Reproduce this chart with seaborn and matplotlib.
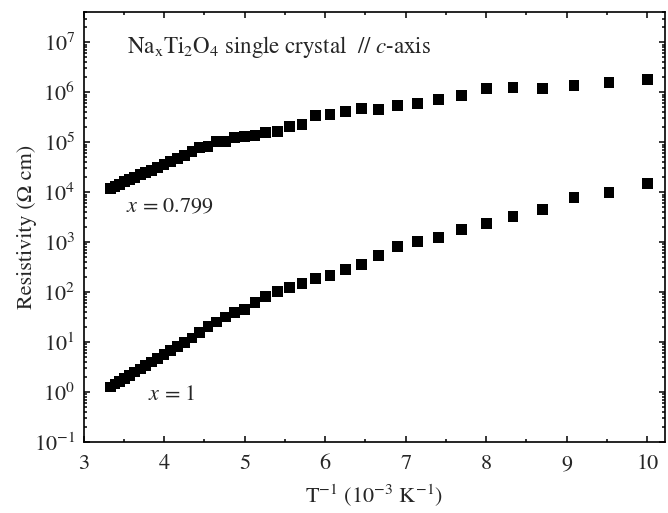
### resistivity vs inverse temperature, NaxTi2O4 single crystal

import numpy as np
import pandas as pd
import matplotlib
matplotlib.use('Agg')
import matplotlib.pyplot as plt
from matplotlib.ticker import LogLocator, MultipleLocator, NullFormatter
import seaborn as sns

# measurement temperatures (K), 300 K down to 100 K in 5 K steps
temperature = [300, 295, 290, 285, 280, 275, 270, 265, 260, 255,
               250, 245, 240, 235, 230, 225, 220, 215, 210, 205,
               200, 195, 190, 185, 180, 175, 170, 165, 160, 155,
               150, 145, 140, 135, 130, 125, 120, 115, 110, 105, 100]

# log10 of resistivity (Ohm cm)
log_rho_0799 = [4.07, 4.11, 4.16, 4.21, 4.26, 4.30, 4.35, 4.40, 4.44, 4.50,
                4.55, 4.61, 4.67, 4.74, 4.81, 4.90, 4.92, 5.01, 5.02, 5.09,
                5.12, 5.14, 5.20, 5.21, 5.31, 5.36, 5.53, 5.55, 5.61, 5.67,
                5.65, 5.74, 5.77, 5.85, 5.94, 6.07, 6.09, 6.07, 6.13, 6.19, 6.25]

log_rho_1 = [0.10, 0.16, 0.21, 0.27, 0.33, 0.40, 0.46, 0.53, 0.60, 0.67,
             0.75, 0.83, 0.91, 0.99, 1.08, 1.19, 1.31, 1.40, 1.50, 1.60,
             1.65, 1.80, 1.92, 2.02, 2.10, 2.18, 2.27, 2.33, 2.45, 2.56,
             2.74, 2.91, 3.02, 3.10, 3.26, 3.38, 3.52, 3.65, 3.90, 3.99, 4.17]

series_names = ['x = 0.799', 'x = 1']

inv_t = 1000.0 / np.array(temperature)
df = pd.concat([
    pd.DataFrame({'invT': inv_t, 'rho': 10 ** np.array(log_rho_0799), 'sample': series_names[0]}),
    pd.DataFrame({'invT': inv_t, 'rho': 10 ** np.array(log_rho_1), 'sample': series_names[1]}),
])

sns.set_style('ticks')
# times-like serif, bundled with matplotlib
plt.rcParams['font.family'] = ['STIXGeneral', 'Liberation Serif', 'DejaVu Serif']
plt.rcParams['mathtext.fontset'] = 'stix'
plt.rcParams['axes.unicode_minus'] = False
plt.rcParams['font.size'] = 16

fig = plt.figure(figsize=(6.68, 5.13), dpi=100)
ax = fig.add_axes([0.125, 0.1384, 0.8705, 0.8382])

sns.scatterplot(data=df, x='invT', y='rho', hue='sample', palette=['black', 'black'],
                marker='s', s=60, linewidth=0, legend=False, ax=ax)

ax.set_yscale('log')
ax.set_xlim(3, 10.22)
ax.set_ylim(0.1, 10 ** 7.608)

ax.xaxis.set_major_locator(MultipleLocator(1))
ax.xaxis.set_minor_locator(MultipleLocator(0.5))
ax.yaxis.set_major_locator(LogLocator(base=10, numticks=20))
ax.yaxis.set_minor_locator(LogLocator(base=10, subs=np.arange(2, 10), numticks=20))
ax.yaxis.set_minor_formatter(NullFormatter())

ax.tick_params(which='both', direction='in', top=True, right=True, width=1.1, color='black')
ax.tick_params(which='major', length=4.5, labelsize=16)
ax.tick_params(which='minor', length=2.5)
ax.tick_params(axis='x', which='major', pad=9)
ax.tick_params(axis='y', which='major', pad=6)
for sp in ax.spines.values():
    sp.set_linewidth(1.2)
    sp.set_color('black')

ax.set_xlabel(r'T$^{\mathregular{-1}}$ (10$^{\mathregular{-3}}$ K$^{\mathregular{-1}}$)', fontsize=16, labelpad=6)
ax.set_ylabel(u'Resistivity (\u03a9 cm)', fontsize=16, labelpad=-2)

ax.text(3.54, 10 ** 6.785,
        r'Na$_\mathregular{x}$Ti$_\mathregular{2}$O$_\mathregular{4}$ single crystal  $//$ $c$-axis',
        fontsize=16.5, ha='left', va='baseline')
ax.text(3.527, 10 ** 3.594, r'$x$ = 0.799', fontsize=16, ha='left', va='baseline')
ax.text(3.80, 10 ** -0.162, r'$x$ = 1', fontsize=16, ha='left', va='baseline')

fig.savefig('out.png', dpi=100)
